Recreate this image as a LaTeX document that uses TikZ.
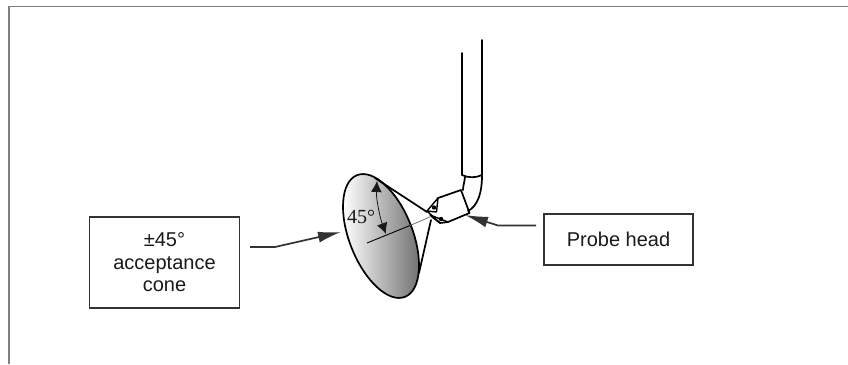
\documentclass[tikz,border=0pt]{standalone}
\usepackage{fontspec}
\setmainfont{Liberation Sans}
\newfontfamily\serifface{Liberation Serif}
\usetikzlibrary{arrows.meta}
\definecolor{ink}{HTML}{1A1A1A}
\definecolor{framegray}{HTML}{7F7F7F}
\definecolor{boxline}{HTML}{333333}
\tikzset{
  x=1pt,y=-1pt,
  labelbox/.style={draw=boxline,line width=1.7pt,fill=white,align=center,font=\fontsize{20}{22.5}\selectfont,text=ink,inner sep=0pt,minimum height=#1},
  leader/.style={draw=boxline,line width=1.7pt,-{Latex[length=23pt,width=11pt]},line join=round},
  part/.style={draw=black,line width=1.7pt,line join=round,line cap=round},
  anglearrow/.style={draw=ink,line width=0.8pt,{Latex[length=11pt,width=11pt]}-{Latex[length=11pt,width=11pt]}}
}
\begin{document}
\begin{tikzpicture}
\useasboundingbox (0,0) rectangle (848,364);
\fill[white] (0,0) rectangle (848,364);
% page frame
\draw[framegray,line width=1pt] (9,6.5) -- (848,6.5);
\draw[framegray,line width=2pt] (9,364) -- (9,6);
% shaft
\draw[part] (462,53) -- (462,175);
\draw[part] (482,40) -- (482,175);
\draw[part] (462,175) .. controls (468,178) and (476,178) .. (482,175);
\draw[part] (465,177) .. controls (464.5,182) and (463,186) .. (463,190);
\draw[part] (482,176) .. controls (482,192) and (478,206) .. (468,211);
% cone
\begin{scope}
  \clip[rotate around={21.5:(381,236)}] (381,236) ellipse [x radius=31.7,y radius=65.4];
  \shade[left color=white,right color=black!55] (343,174) rectangle (419,298);
\end{scope}
\draw[part,rotate around={21.5:(381,236)}] (381,236) ellipse [x radius=31.7,y radius=65.4];
\draw[part] (375,178) -- (427,212);
\draw[part] (419,273) -- (431,220);
\draw[black,line width=0.9pt] (367,243) -- (410,225.5);
\draw[black!60,line width=0.7pt] (410,225.5) -- (430,217);
% probe head
\draw[part] (438,198) -- (461,190) -- (469.5,213) -- (448,222) -- (440,223) -- (431,216);
\draw[part,line width=1.4pt] (427,211) -- (438,198) -- (436.5,212) -- cycle;
\draw[part,line width=1.4pt] (430,215) -- (448,222);
\draw[part,line width=1.4pt] (427,211) -- (440,223);
\fill (434,207.5) circle (2.2);
\fill (441,219) circle (2.2);
% angle
\draw[anglearrow] (377,181) .. controls (376,198) and (380,218) .. (386,234);
\node[font=\serifface\fontsize{20}{22}\selectfont,text=ink,inner sep=0pt] (angle) at (361,217) {45°};
% label boxes
\node[labelbox=91pt,minimum width=150pt] (cone) at (164.5,262.5) {±45°\\acceptance\\cone};
\node[labelbox=51pt,minimum width=149pt] (head) at (618.5,239.5) {Probe head};
% leaders
\coordinate (coneTip) at (341,232);
\coordinate (headTip) at (465,215);
\draw[leader] (250,247) -- (275,247) -- (coneTip);
\draw[leader] (536,225.5) -- (498,225.5) -- (headTip);
\end{tikzpicture}
\end{document}
